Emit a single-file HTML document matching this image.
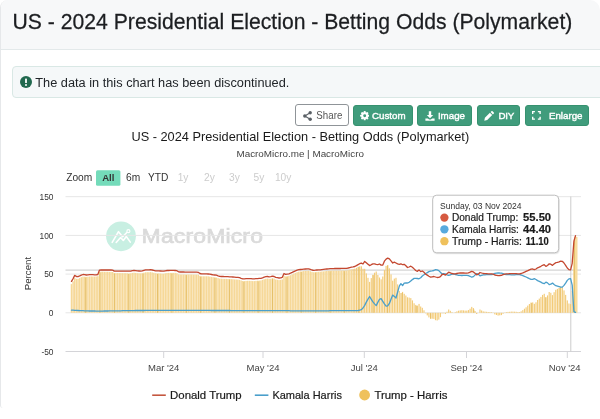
<!DOCTYPE html>
<html lang="en">
<head>
<meta charset="utf-8">
<title>US - 2024 Presidential Election - Betting Odds (Polymarket)</title>
<style>
html,body{margin:0;padding:0;}
body{width:600px;height:419px;overflow:hidden;background:#fff;position:relative;
  font-family:"Liberation Sans",Arial,Helvetica,sans-serif;color:#212529;}
.card{position:absolute;left:0;top:0;width:600px;height:408px;border:0;border-left:1px solid #e6e8ea;border-radius:8px 10px 0 3px;
  box-sizing:border-box;background:#fff;overflow:hidden;}
.card-header{position:absolute;left:0;top:0;right:0;height:49px;background:#f7f8f9;border-bottom:1px solid #e3e9ea;}
h1{position:absolute;left:11.6px;top:9.5px;margin:0;font-weight:400;font-size:21.17px;line-height:24px;white-space:nowrap;color:#1c1e21;letter-spacing:0;transform:scaleY(1.085);transform-origin:0 20.2px;-webkit-text-stroke:0.25px #1c1e21;}
.alert{position:absolute;left:12px;top:66px;width:640px;height:32px;box-sizing:border-box;border:1px solid #d9e8e5;border-radius:4px;background:#f5f8f9;}
.alert .ico{position:absolute;left:6.5px;top:9px;width:12px;height:12px;}
.alert span{position:absolute;left:22.3px;top:8.2px;font-size:12.77px;line-height:15px;white-space:nowrap;color:#212529;transform:scaleY(1.06);transform-origin:0 12.8px;}
.btn{position:absolute;top:105px;height:21px;box-sizing:border-box;border-radius:3px;border:1px solid #36916f;background:#409c7c;color:#fff;
  font-size:9.75px;font-weight:400;line-height:19px;white-space:nowrap;letter-spacing:0;}
.btn svg{position:absolute;top:5px;}
.btn b{position:absolute;top:0.3px;font-weight:400;-webkit-text-stroke:0.4px #fff;}
.btn.share{background:#fff;border-color:#8f9498;color:#555;font-weight:400;letter-spacing:0;}
.btn.share b{font-weight:400;font-size:9.75px;-webkit-text-stroke:0;}
svg text{font-family:"Liberation Sans",Arial,Helvetica,sans-serif;}
#chart{position:absolute;left:0;top:0;}
#root{position:absolute;left:0;top:0;width:600px;height:419px;will-change:transform;}
</style>
</head>
<body>
<div id="root">
<div class="card">
  <div class="card-header"><h1>US - 2024 Presidential Election - Betting Odds (Polymarket)</h1></div>
</div>

<div class="alert">
  <svg class="ico" viewBox="0 0 12 12"><circle cx="6" cy="6" r="6" fill="#21694f"/><rect x="5.1" y="2.4" width="1.8" height="4.6" rx="0.6" fill="#fff"/><circle cx="6" cy="8.9" r="1" fill="#fff"/></svg>
  <span>The data in this chart has been discontinued.</span>
</div>

<div class="btn share" style="left:294.7px;top:104.3px;width:54.5px;height:21.8px;border-width:1.2px;">
  <svg style="left:7.2px;top:5.3px" width="9" height="10" viewBox="0 0 9 10"><g fill="#5a6066"><circle cx="7.2" cy="1.8" r="1.7"/><circle cx="1.8" cy="5" r="1.7"/><circle cx="7.2" cy="8.2" r="1.7"/></g><path d="M7.2 1.8L1.8 5L7.2 8.2" fill="none" stroke="#5a6066" stroke-width="1.1"/></svg>
  <b style="left:20.6px;top:0.5px;transform:scaleY(1.08);transform-origin:0 12.6px">Share</b>
</div>
<div class="btn" style="left:353px;width:60px;">
  <svg style="left:5.6px;top:5.3px" width="9.4" height="9.4" viewBox="0 0 10 10"><g fill="#fff"><circle cx="5" cy="5" r="3.55"/><rect x="3.9" y="0.1" width="2.2" height="9.8" rx="0.7"/><rect x="3.9" y="0.1" width="2.2" height="9.8" rx="0.7" transform="rotate(45 5 5)"/><rect x="3.9" y="0.1" width="2.2" height="9.8" rx="0.7" transform="rotate(90 5 5)"/><rect x="3.9" y="0.1" width="2.2" height="9.8" rx="0.7" transform="rotate(135 5 5)"/></g><circle cx="5" cy="5" r="1.55" fill="#409c7c"/></svg>
  <b style="left:18px">Custom</b>
</div>
<div class="btn" style="left:417px;width:55px;">
  <svg style="left:6.9px;top:4.6px" width="10" height="10" viewBox="0 0 10 10"><path d="M3.8 0.3h2.4v3.6h2L5 7.2 1.8 3.9h2z" fill="#fff"/><path d="M0.4 7.4h2.4l1.4 1.2h1.6l1.4-1.2h2.4v2.3H0.4z" fill="#fff"/></svg>
  <b style="left:19.9px">Image</b>
</div>
<div class="btn" style="left:477px;width:43px;">
  <svg style="left:5.9px;top:4.6px" width="10" height="10" viewBox="0 0 10 10"><path d="M0.3 9.7l0.6-2.9 5-5 2.3 2.3-5 5zM6.6 1.1l0.9-0.9c0.3-0.3 0.7-0.3 1 0l1.3 1.3c0.3 0.3 0.3 0.7 0 1l-0.9 0.9z" fill="#fff"/></svg>
  <b style="left:20.5px;letter-spacing:-0.3px">DIY</b>
</div>
<div class="btn" style="left:525px;width:63.5px;">
  <svg style="left:6.4px;top:5px" width="8.8" height="8.8" viewBox="0 0 9 9"><path d="M0.7 3V0.7H3M6 0.7h2.3V3M8.3 6v2.3H6M3 8.3H0.7V6" fill="none" stroke="#fff" stroke-width="1.4"/></svg>
  <b style="left:22.9px">Enlarge</b>
</div>

<svg id="chart" width="600" height="419" viewBox="0 0 600 419">
  <!-- titles -->
  <text x="300.3" y="140.7" text-anchor="middle" font-size="12.77" fill="#1a1a1a">US - 2024 Presidential Election - Betting Odds (Polymarket)</text>
  <text x="300.2" y="157.2" text-anchor="middle" font-size="9.87" fill="#444">MacroMicro.me | MacroMicro</text>

  <!-- range selector -->
  <g font-size="10.2">
    <text x="66.2" y="181.35" fill="#333">Zoom</text>
    <rect x="96" y="170.2" width="24.4" height="15.6" rx="1.5" fill="#74dbba"/>
    <text x="108.3" y="181.35" text-anchor="middle" fill="#333" font-weight="700" font-size="9.6">All</text>
    <text x="133.1" y="181.35" text-anchor="middle" fill="#333">6m</text>
    <text x="158.1" y="181.35" text-anchor="middle" fill="#333">YTD</text>
    <g fill="#cccccc">
      <text x="183.1" y="181.35" text-anchor="middle">1y</text>
      <text x="209.5" y="181.35" text-anchor="middle">2y</text>
      <text x="234.4" y="181.35" text-anchor="middle">3y</text>
      <text x="259" y="181.35" text-anchor="middle">5y</text>
      <text x="283.1" y="181.35" text-anchor="middle">10y</text>
    </g>
  </g>

  <!-- watermark -->
  <g>
    <circle cx="121" cy="236.3" r="14.9" fill="#c8efe2"/>
    <path d="M112.2 242.4L118.5 231.7L122.6 236.7L127.1 232.3" fill="none" stroke="#fff" stroke-width="1.6" stroke-linejoin="round" stroke-linecap="round"/>
    <path d="M116.2 242.5L120.6 237.5L123.3 240.5L126.3 236.5L130.3 242.1" fill="none" stroke="#fff" stroke-width="1.6" stroke-linejoin="round" stroke-linecap="round"/>
    <circle cx="128.4" cy="231.2" r="1.5" fill="#c8efe2" stroke="#fff" stroke-width="1.2"/>
    <text transform="translate(141.6,243.3) scale(1.147,1)" font-size="20" font-weight="400" fill="#dadada" stroke="#dadada" stroke-width="0.7" letter-spacing="0.15">MacroMicro</text>
  </g>

  <!-- grid -->
  <g stroke="#e6e6e6" stroke-width="1">
<line x1="65.5" x2="581" y1="196.7" y2="196.7"/>
<line x1="65.5" x2="581" y1="235.4" y2="235.4"/>
<line x1="65.5" x2="581" y1="274.1" y2="274.1"/>
<line x1="65.5" x2="581" y1="312.8" y2="312.8"/>
  </g>
  <line x1="65.5" x2="581" y1="270.1" y2="270.1" stroke="#c9c9c9" stroke-width="1"/>
  <line x1="65.5" x2="581" y1="351.5" y2="351.5" stroke="#d4d4d8" stroke-width="1"/>
  <g stroke="#d4d4d8" stroke-width="1">
<line x1="163.7" x2="163.7" y1="351.5" y2="358"/>
<line x1="263.0" x2="263.0" y1="351.5" y2="358"/>
<line x1="364.3" x2="364.3" y1="351.5" y2="358"/>
<line x1="466.5" x2="466.5" y1="351.5" y2="358"/>
<line x1="567.3" x2="567.3" y1="351.5" y2="358"/>
  </g>
  <!-- crosshair -->
  <line x1="570.8" x2="570.8" y1="196.5" y2="351.5" stroke="#cccccc" stroke-width="1"/>

  <!-- axis labels -->
  <g font-size="8.4" fill="#333">
<text x="53.5" y="199.8" text-anchor="end">150</text>
<text x="53.5" y="238.5" text-anchor="end">100</text>
<text x="53.5" y="277.2" text-anchor="end">50</text>
<text x="53.5" y="315.9" text-anchor="end">0</text>
<text x="53.5" y="354.6" text-anchor="end">-50</text>
  </g>
  <g font-size="9.5" fill="#444">
<text x="163.7" y="371.4" text-anchor="middle">Mar '24</text>
<text x="263.0" y="371.4" text-anchor="middle">May '24</text>
<text x="364.3" y="371.4" text-anchor="middle">Jul '24</text>
<text x="466.5" y="371.4" text-anchor="middle">Sep '24</text>
<text x="564.6999999999999" y="371.4" text-anchor="middle">Nov '24</text>
  </g>
  <text transform="translate(31.3,273.6) rotate(-90)" text-anchor="middle" font-size="9.7" fill="#333">Percent</text>

  <!-- columns: Trump - Harris -->
  <g fill="#f6d898">
<rect x="70.73" y="284.1" width="1.45" height="28.7"/>
<rect x="72.38" y="281.3" width="1.45" height="31.5"/>
<rect x="74.02" y="277.9" width="1.45" height="34.9"/>
<rect x="75.67" y="278.9" width="1.45" height="33.9"/>
<rect x="77.32" y="278.9" width="1.45" height="33.9"/>
<rect x="78.97" y="278.1" width="1.45" height="34.7"/>
<rect x="80.61" y="277.2" width="1.45" height="35.6"/>
<rect x="82.26" y="276.6" width="1.45" height="36.2"/>
<rect x="83.91" y="276.7" width="1.45" height="36.1"/>
<rect x="85.56" y="276.9" width="1.45" height="35.9"/>
<rect x="87.20" y="276.7" width="1.45" height="36.1"/>
<rect x="88.85" y="276.5" width="1.45" height="36.3"/>
<rect x="90.50" y="276.4" width="1.45" height="36.4"/>
<rect x="92.14" y="276.5" width="1.45" height="36.3"/>
<rect x="93.79" y="276.6" width="1.45" height="36.2"/>
<rect x="95.44" y="276.5" width="1.45" height="36.3"/>
<rect x="97.09" y="276.2" width="1.45" height="36.6"/>
<rect x="98.73" y="271.8" width="1.45" height="41.0"/>
<rect x="100.38" y="271.7" width="1.45" height="41.1"/>
<rect x="102.03" y="271.7" width="1.45" height="41.1"/>
<rect x="103.68" y="271.8" width="1.45" height="41.0"/>
<rect x="105.32" y="271.8" width="1.45" height="41.0"/>
<rect x="106.97" y="271.8" width="1.45" height="41.0"/>
<rect x="108.62" y="271.9" width="1.45" height="40.9"/>
<rect x="110.27" y="271.9" width="1.45" height="40.9"/>
<rect x="111.91" y="272.0" width="1.45" height="40.8"/>
<rect x="113.56" y="273.0" width="1.45" height="39.8"/>
<rect x="115.21" y="273.1" width="1.45" height="39.7"/>
<rect x="116.85" y="273.1" width="1.45" height="39.7"/>
<rect x="118.50" y="273.1" width="1.45" height="39.7"/>
<rect x="120.15" y="273.1" width="1.45" height="39.7"/>
<rect x="121.80" y="273.2" width="1.45" height="39.6"/>
<rect x="123.44" y="273.2" width="1.45" height="39.6"/>
<rect x="125.09" y="273.2" width="1.45" height="39.6"/>
<rect x="126.74" y="273.3" width="1.45" height="39.5"/>
<rect x="128.39" y="273.4" width="1.45" height="39.4"/>
<rect x="130.03" y="273.3" width="1.45" height="39.5"/>
<rect x="131.68" y="272.9" width="1.45" height="39.9"/>
<rect x="133.33" y="272.7" width="1.45" height="40.1"/>
<rect x="134.97" y="272.9" width="1.45" height="39.9"/>
<rect x="136.62" y="273.2" width="1.45" height="39.6"/>
<rect x="138.27" y="273.3" width="1.45" height="39.5"/>
<rect x="139.92" y="273.4" width="1.45" height="39.4"/>
<rect x="141.56" y="273.2" width="1.45" height="39.6"/>
<rect x="143.21" y="272.7" width="1.45" height="40.1"/>
<rect x="144.86" y="272.3" width="1.45" height="40.5"/>
<rect x="146.51" y="272.2" width="1.45" height="40.6"/>
<rect x="148.15" y="272.2" width="1.45" height="40.6"/>
<rect x="149.80" y="272.1" width="1.45" height="40.7"/>
<rect x="151.45" y="272.4" width="1.45" height="40.4"/>
<rect x="153.09" y="272.8" width="1.45" height="40.0"/>
<rect x="154.74" y="273.2" width="1.45" height="39.6"/>
<rect x="156.39" y="273.3" width="1.45" height="39.5"/>
<rect x="158.04" y="273.4" width="1.45" height="39.4"/>
<rect x="159.68" y="273.5" width="1.45" height="39.3"/>
<rect x="161.33" y="273.7" width="1.45" height="39.1"/>
<rect x="162.98" y="273.7" width="1.45" height="39.1"/>
<rect x="164.63" y="273.3" width="1.45" height="39.5"/>
<rect x="166.27" y="273.0" width="1.45" height="39.8"/>
<rect x="167.92" y="272.9" width="1.45" height="39.9"/>
<rect x="169.57" y="272.9" width="1.45" height="39.9"/>
<rect x="171.22" y="272.9" width="1.45" height="39.9"/>
<rect x="172.86" y="272.9" width="1.45" height="39.9"/>
<rect x="174.51" y="272.9" width="1.45" height="39.9"/>
<rect x="176.16" y="273.2" width="1.45" height="39.6"/>
<rect x="177.80" y="274.3" width="1.45" height="38.5"/>
<rect x="179.45" y="274.5" width="1.45" height="38.3"/>
<rect x="181.10" y="274.5" width="1.45" height="38.3"/>
<rect x="182.75" y="274.5" width="1.45" height="38.3"/>
<rect x="184.39" y="274.5" width="1.45" height="38.3"/>
<rect x="186.04" y="274.5" width="1.45" height="38.3"/>
<rect x="187.69" y="274.5" width="1.45" height="38.3"/>
<rect x="189.34" y="274.5" width="1.45" height="38.3"/>
<rect x="190.98" y="274.5" width="1.45" height="38.3"/>
<rect x="192.63" y="274.6" width="1.45" height="38.2"/>
<rect x="194.28" y="274.6" width="1.45" height="38.2"/>
<rect x="195.92" y="274.6" width="1.45" height="38.2"/>
<rect x="197.57" y="274.7" width="1.45" height="38.1"/>
<rect x="199.22" y="275.9" width="1.45" height="36.9"/>
<rect x="200.87" y="276.3" width="1.45" height="36.5"/>
<rect x="202.51" y="276.3" width="1.45" height="36.5"/>
<rect x="204.16" y="276.3" width="1.45" height="36.5"/>
<rect x="205.81" y="276.3" width="1.45" height="36.5"/>
<rect x="207.46" y="276.3" width="1.45" height="36.5"/>
<rect x="209.10" y="276.6" width="1.45" height="36.2"/>
<rect x="210.75" y="276.9" width="1.45" height="35.9"/>
<rect x="212.40" y="277.1" width="1.45" height="35.7"/>
<rect x="214.05" y="277.3" width="1.45" height="35.5"/>
<rect x="215.69" y="277.6" width="1.45" height="35.2"/>
<rect x="217.34" y="278.1" width="1.45" height="34.7"/>
<rect x="218.99" y="278.6" width="1.45" height="34.2"/>
<rect x="220.63" y="278.7" width="1.45" height="34.1"/>
<rect x="222.28" y="278.8" width="1.45" height="34.0"/>
<rect x="223.93" y="278.9" width="1.45" height="33.9"/>
<rect x="225.58" y="278.9" width="1.45" height="33.9"/>
<rect x="227.22" y="279.0" width="1.45" height="33.8"/>
<rect x="228.87" y="279.0" width="1.45" height="33.8"/>
<rect x="230.52" y="279.1" width="1.45" height="33.7"/>
<rect x="232.17" y="279.2" width="1.45" height="33.6"/>
<rect x="233.81" y="279.4" width="1.45" height="33.4"/>
<rect x="235.46" y="279.5" width="1.45" height="33.3"/>
<rect x="237.11" y="279.6" width="1.45" height="33.2"/>
<rect x="238.75" y="279.9" width="1.45" height="32.9"/>
<rect x="240.40" y="280.5" width="1.45" height="32.3"/>
<rect x="242.05" y="281.0" width="1.45" height="31.8"/>
<rect x="243.70" y="281.1" width="1.45" height="31.7"/>
<rect x="245.34" y="280.9" width="1.45" height="31.9"/>
<rect x="246.99" y="280.8" width="1.45" height="32.0"/>
<rect x="248.64" y="280.8" width="1.45" height="32.0"/>
<rect x="250.29" y="280.9" width="1.45" height="31.9"/>
<rect x="251.93" y="281.1" width="1.45" height="31.7"/>
<rect x="253.58" y="281.1" width="1.45" height="31.7"/>
<rect x="255.23" y="280.9" width="1.45" height="31.9"/>
<rect x="256.87" y="280.7" width="1.45" height="32.1"/>
<rect x="258.52" y="280.6" width="1.45" height="32.2"/>
<rect x="260.17" y="280.5" width="1.45" height="32.3"/>
<rect x="261.82" y="279.9" width="1.45" height="32.9"/>
<rect x="263.46" y="279.3" width="1.45" height="33.5"/>
<rect x="265.11" y="278.8" width="1.45" height="34.0"/>
<rect x="266.76" y="278.6" width="1.45" height="34.2"/>
<rect x="268.41" y="278.9" width="1.45" height="33.9"/>
<rect x="270.05" y="278.8" width="1.45" height="34.0"/>
<rect x="271.70" y="278.2" width="1.45" height="34.6"/>
<rect x="273.35" y="278.6" width="1.45" height="34.2"/>
<rect x="275.00" y="279.5" width="1.45" height="33.3"/>
<rect x="276.64" y="279.8" width="1.45" height="33.0"/>
<rect x="278.29" y="280.1" width="1.45" height="32.7"/>
<rect x="279.94" y="279.9" width="1.45" height="32.9"/>
<rect x="281.58" y="279.4" width="1.45" height="33.4"/>
<rect x="283.23" y="275.6" width="1.45" height="37.2"/>
<rect x="284.88" y="276.5" width="1.45" height="36.3"/>
<rect x="286.53" y="276.2" width="1.45" height="36.6"/>
<rect x="288.17" y="275.8" width="1.45" height="37.0"/>
<rect x="289.82" y="275.2" width="1.45" height="37.6"/>
<rect x="291.47" y="274.4" width="1.45" height="38.4"/>
<rect x="293.12" y="273.6" width="1.45" height="39.2"/>
<rect x="294.76" y="272.9" width="1.45" height="39.9"/>
<rect x="296.41" y="272.2" width="1.45" height="40.6"/>
<rect x="298.06" y="271.7" width="1.45" height="41.1"/>
<rect x="299.70" y="271.5" width="1.45" height="41.3"/>
<rect x="301.35" y="271.3" width="1.45" height="41.5"/>
<rect x="303.00" y="271.1" width="1.45" height="41.7"/>
<rect x="304.65" y="271.0" width="1.45" height="41.8"/>
<rect x="306.29" y="270.9" width="1.45" height="41.9"/>
<rect x="307.94" y="270.8" width="1.45" height="42.0"/>
<rect x="309.59" y="271.3" width="1.45" height="41.5"/>
<rect x="311.24" y="271.9" width="1.45" height="40.9"/>
<rect x="312.88" y="272.3" width="1.45" height="40.5"/>
<rect x="314.53" y="272.1" width="1.45" height="40.7"/>
<rect x="316.18" y="271.9" width="1.45" height="40.9"/>
<rect x="317.82" y="271.8" width="1.45" height="41.0"/>
<rect x="319.47" y="271.7" width="1.45" height="41.1"/>
<rect x="321.12" y="271.5" width="1.45" height="41.3"/>
<rect x="322.77" y="271.4" width="1.45" height="41.4"/>
<rect x="324.41" y="271.2" width="1.45" height="41.6"/>
<rect x="326.06" y="271.0" width="1.45" height="41.8"/>
<rect x="327.71" y="270.9" width="1.45" height="41.9"/>
<rect x="329.36" y="270.7" width="1.45" height="42.1"/>
<rect x="331.00" y="270.7" width="1.45" height="42.1"/>
<rect x="332.65" y="270.7" width="1.45" height="42.1"/>
<rect x="334.30" y="270.7" width="1.45" height="42.1"/>
<rect x="335.95" y="270.7" width="1.45" height="42.1"/>
<rect x="337.59" y="270.7" width="1.45" height="42.1"/>
<rect x="339.24" y="270.7" width="1.45" height="42.1"/>
<rect x="340.89" y="270.6" width="1.45" height="42.2"/>
<rect x="342.53" y="270.6" width="1.45" height="42.2"/>
<rect x="344.18" y="270.5" width="1.45" height="42.3"/>
<rect x="345.83" y="270.5" width="1.45" height="42.3"/>
<rect x="347.48" y="270.2" width="1.45" height="42.6"/>
<rect x="349.12" y="269.8" width="1.45" height="43.0"/>
<rect x="350.77" y="269.4" width="1.45" height="43.4"/>
<rect x="352.57" y="269.1" width="1.15" height="43.7" fill="#f3cb78"/>
<rect x="354.22" y="268.7" width="1.15" height="44.1" fill="#f3cb78"/>
<rect x="355.86" y="267.9" width="1.15" height="44.9" fill="#f3cb78"/>
<rect x="357.51" y="266.8" width="1.15" height="46.0" fill="#f3cb78"/>
<rect x="359.16" y="266.3" width="1.15" height="46.5" fill="#f3cb78"/>
<rect x="360.80" y="266.3" width="1.15" height="46.5" fill="#f3cb78"/>
<rect x="362.45" y="268.8" width="1.15" height="44.0" fill="#f3cb78"/>
<rect x="364.10" y="268.8" width="1.15" height="44.0" fill="#f3cb78"/>
<rect x="365.75" y="273.4" width="1.15" height="39.4" fill="#f3cb78"/>
<rect x="367.39" y="277.8" width="1.15" height="35.0" fill="#f3cb78"/>
<rect x="369.04" y="281.9" width="1.15" height="30.9" fill="#f3cb78"/>
<rect x="370.69" y="278.1" width="1.15" height="34.7" fill="#f3cb78"/>
<rect x="372.34" y="274.8" width="1.15" height="38.0" fill="#f3cb78"/>
<rect x="373.98" y="272.7" width="1.15" height="40.1" fill="#f3cb78"/>
<rect x="375.63" y="271.5" width="1.15" height="41.3" fill="#f3cb78"/>
<rect x="377.28" y="275.0" width="1.15" height="37.8" fill="#f3cb78"/>
<rect x="378.93" y="277.5" width="1.15" height="35.3" fill="#f3cb78"/>
<rect x="380.57" y="279.3" width="1.15" height="33.5" fill="#f3cb78"/>
<rect x="382.22" y="276.5" width="1.15" height="36.3" fill="#f3cb78"/>
<rect x="383.87" y="270.1" width="1.15" height="42.7" fill="#f3cb78"/>
<rect x="385.51" y="265.9" width="1.15" height="46.9" fill="#f3cb78"/>
<rect x="387.16" y="265.0" width="1.15" height="47.8" fill="#f3cb78"/>
<rect x="388.81" y="268.3" width="1.15" height="44.5" fill="#f3cb78"/>
<rect x="390.46" y="274.4" width="1.15" height="38.4" fill="#f3cb78"/>
<rect x="392.10" y="280.7" width="1.15" height="32.1" fill="#f3cb78"/>
<rect x="393.75" y="278.6" width="1.15" height="34.2" fill="#f3cb78"/>
<rect x="395.40" y="277.8" width="1.15" height="35.0" fill="#f3cb78"/>
<rect x="397.05" y="284.4" width="1.15" height="28.4" fill="#f3cb78"/>
<rect x="398.69" y="290.9" width="1.15" height="21.9" fill="#f3cb78"/>
<rect x="400.34" y="293.0" width="1.15" height="19.8" fill="#f3cb78"/>
<rect x="401.99" y="291.9" width="1.15" height="20.9" fill="#f3cb78"/>
<rect x="403.63" y="293.8" width="1.15" height="19.0" fill="#f3cb78"/>
<rect x="405.28" y="295.5" width="1.15" height="17.3" fill="#f3cb78"/>
<rect x="406.93" y="297.3" width="1.15" height="15.5" fill="#f3cb78"/>
<rect x="408.58" y="297.6" width="1.15" height="15.2" fill="#f3cb78"/>
<rect x="410.22" y="298.1" width="1.15" height="14.7" fill="#f3cb78"/>
<rect x="411.87" y="300.4" width="1.15" height="12.4" fill="#f3cb78"/>
<rect x="413.52" y="303.3" width="1.15" height="9.5" fill="#f3cb78"/>
<rect x="415.17" y="304.9" width="1.15" height="7.9" fill="#f3cb78"/>
<rect x="416.81" y="305.6" width="1.15" height="7.2" fill="#f3cb78"/>
<rect x="418.46" y="303.9" width="1.15" height="8.9" fill="#f3cb78"/>
<rect x="420.11" y="306.5" width="1.15" height="6.3" fill="#f3cb78"/>
<rect x="421.75" y="307.8" width="1.15" height="5.0" fill="#f3cb78"/>
<rect x="423.40" y="310.3" width="1.15" height="2.5" fill="#f3cb78"/>
<rect x="425.05" y="312.8" width="1.15" height="0.5" fill="#f3cb78"/>
<rect x="426.70" y="312.8" width="1.15" height="2.6" fill="#f3cb78"/>
<rect x="428.34" y="312.8" width="1.15" height="4.6" fill="#f3cb78"/>
<rect x="429.99" y="312.8" width="1.15" height="5.9" fill="#f3cb78"/>
<rect x="431.64" y="312.8" width="1.15" height="5.9" fill="#f3cb78"/>
<rect x="433.29" y="312.8" width="1.15" height="6.1" fill="#f3cb78"/>
<rect x="434.93" y="312.8" width="1.15" height="7.4" fill="#f3cb78"/>
<rect x="436.58" y="312.8" width="1.15" height="7.7" fill="#f3cb78"/>
<rect x="438.23" y="312.8" width="1.15" height="6.8" fill="#f3cb78"/>
<rect x="439.88" y="312.8" width="1.15" height="4.4" fill="#f3cb78"/>
<rect x="441.52" y="312.8" width="1.15" height="0.6" fill="#f3cb78"/>
<rect x="443.17" y="312.8" width="1.15" height="0.5" fill="#f3cb78"/>
<rect x="444.82" y="312.8" width="1.15" height="1.1" fill="#f3cb78"/>
<rect x="446.46" y="311.7" width="1.15" height="1.1" fill="#f3cb78"/>
<rect x="448.11" y="309.5" width="1.15" height="3.3" fill="#f3cb78"/>
<rect x="449.76" y="310.8" width="1.15" height="2.0" fill="#f3cb78"/>
<rect x="451.41" y="312.1" width="1.15" height="0.7" fill="#f3cb78"/>
<rect x="454.70" y="312.2" width="1.15" height="0.6" fill="#f3cb78"/>
<rect x="456.35" y="311.3" width="1.15" height="1.5" fill="#f3cb78"/>
<rect x="458.00" y="310.7" width="1.15" height="2.1" fill="#f3cb78"/>
<rect x="459.64" y="310.4" width="1.15" height="2.4" fill="#f3cb78"/>
<rect x="461.29" y="310.2" width="1.15" height="2.6" fill="#f3cb78"/>
<rect x="462.94" y="310.4" width="1.15" height="2.4" fill="#f3cb78"/>
<rect x="464.58" y="310.6" width="1.15" height="2.2" fill="#f3cb78"/>
<rect x="466.23" y="310.6" width="1.15" height="2.2" fill="#f3cb78"/>
<rect x="467.88" y="310.1" width="1.15" height="2.7" fill="#f3cb78"/>
<rect x="469.53" y="308.7" width="1.15" height="4.1" fill="#f3cb78"/>
<rect x="471.17" y="306.9" width="1.15" height="5.9" fill="#f3cb78"/>
<rect x="472.82" y="308.1" width="1.15" height="4.7" fill="#f3cb78"/>
<rect x="474.47" y="311.0" width="1.15" height="1.8" fill="#f3cb78"/>
<rect x="476.12" y="312.8" width="1.15" height="1.2" fill="#f3cb78"/>
<rect x="479.41" y="309.5" width="1.15" height="3.3" fill="#f3cb78"/>
<rect x="481.06" y="310.5" width="1.15" height="2.3" fill="#f3cb78"/>
<rect x="482.70" y="311.4" width="1.15" height="1.4" fill="#f3cb78"/>
<rect x="484.35" y="311.6" width="1.15" height="1.2" fill="#f3cb78"/>
<rect x="486.00" y="311.8" width="1.15" height="1.0" fill="#f3cb78"/>
<rect x="487.65" y="312.0" width="1.15" height="0.8" fill="#f3cb78"/>
<rect x="489.29" y="312.1" width="1.15" height="0.7" fill="#f3cb78"/>
<rect x="490.94" y="312.2" width="1.15" height="0.6" fill="#f3cb78"/>
<rect x="492.59" y="312.6" width="1.15" height="0.2" fill="#f3cb78"/>
<rect x="494.24" y="312.8" width="1.15" height="1.6" fill="#f3cb78"/>
<rect x="495.88" y="312.8" width="1.15" height="2.2" fill="#f3cb78"/>
<rect x="497.53" y="312.8" width="1.15" height="2.8" fill="#f3cb78"/>
<rect x="499.18" y="312.8" width="1.15" height="2.5" fill="#f3cb78"/>
<rect x="500.83" y="312.8" width="1.15" height="2.3" fill="#f3cb78"/>
<rect x="502.47" y="312.8" width="1.15" height="1.0" fill="#f3cb78"/>
<rect x="504.12" y="312.6" width="1.15" height="0.2" fill="#f3cb78"/>
<rect x="505.77" y="312.1" width="1.15" height="0.7" fill="#f3cb78"/>
<rect x="507.41" y="311.9" width="1.15" height="0.9" fill="#f3cb78"/>
<rect x="509.06" y="311.8" width="1.15" height="1.0" fill="#f3cb78"/>
<rect x="510.71" y="311.6" width="1.15" height="1.2" fill="#f3cb78"/>
<rect x="512.36" y="311.6" width="1.15" height="1.2" fill="#f3cb78"/>
<rect x="514.00" y="311.7" width="1.15" height="1.1" fill="#f3cb78"/>
<rect x="515.65" y="311.8" width="1.15" height="1.0" fill="#f3cb78"/>
<rect x="517.30" y="312.0" width="1.15" height="0.8" fill="#f3cb78"/>
<rect x="518.95" y="312.1" width="1.15" height="0.7" fill="#f3cb78"/>
<rect x="520.59" y="311.3" width="1.15" height="1.5" fill="#f3cb78"/>
<rect x="522.24" y="310.1" width="1.15" height="2.7" fill="#f3cb78"/>
<rect x="523.89" y="308.7" width="1.15" height="4.1" fill="#f3cb78"/>
<rect x="525.53" y="307.3" width="1.15" height="5.5" fill="#f3cb78"/>
<rect x="527.18" y="305.6" width="1.15" height="7.2" fill="#f3cb78"/>
<rect x="528.83" y="304.0" width="1.15" height="8.8" fill="#f3cb78"/>
<rect x="530.48" y="302.5" width="1.15" height="10.3" fill="#f3cb78"/>
<rect x="532.12" y="302.4" width="1.15" height="10.4" fill="#f3cb78"/>
<rect x="533.77" y="303.8" width="1.15" height="9.0" fill="#f3cb78"/>
<rect x="535.42" y="302.3" width="1.15" height="10.5" fill="#f3cb78"/>
<rect x="537.07" y="300.0" width="1.15" height="12.8" fill="#f3cb78"/>
<rect x="538.71" y="298.6" width="1.15" height="14.2" fill="#f3cb78"/>
<rect x="540.36" y="296.9" width="1.15" height="15.9" fill="#f3cb78"/>
<rect x="542.01" y="294.9" width="1.15" height="17.9" fill="#f3cb78"/>
<rect x="543.66" y="293.8" width="1.15" height="19.0" fill="#f3cb78"/>
<rect x="545.30" y="297.1" width="1.15" height="15.7" fill="#f3cb78"/>
<rect x="546.95" y="295.4" width="1.15" height="17.4" fill="#f3cb78"/>
<rect x="548.60" y="292.0" width="1.15" height="20.8" fill="#f3cb78"/>
<rect x="550.24" y="292.8" width="1.15" height="20.0" fill="#f3cb78"/>
<rect x="551.89" y="295.1" width="1.15" height="17.7" fill="#f3cb78"/>
<rect x="553.54" y="292.2" width="1.15" height="20.6" fill="#f3cb78"/>
<rect x="555.19" y="289.8" width="1.15" height="23.0" fill="#f3cb78"/>
<rect x="556.83" y="288.9" width="1.15" height="23.9" fill="#f3cb78"/>
<rect x="558.48" y="288.0" width="1.15" height="24.8" fill="#f3cb78"/>
<rect x="560.13" y="286.8" width="1.15" height="26.0" fill="#f3cb78"/>
<rect x="561.78" y="287.1" width="1.15" height="25.7" fill="#f3cb78"/>
<rect x="563.42" y="290.4" width="1.15" height="22.4" fill="#f3cb78"/>
<rect x="565.07" y="294.9" width="1.15" height="17.9" fill="#f3cb78"/>
<rect x="566.72" y="300.4" width="1.15" height="12.4" fill="#f3cb78"/>
<rect x="568.36" y="303.5" width="1.15" height="9.3" fill="#f3cb78"/>
<rect x="570.01" y="304.1" width="1.15" height="8.7" fill="#f3cb78"/>
<rect x="571.66" y="290.9" width="1.15" height="21.9" fill="#f3cb78"/>
<rect x="573.31" y="242.6" width="1.15" height="70.2" fill="#f3cb78"/>
<rect x="574.95" y="236.0" width="1.15" height="76.8" fill="#f3cb78"/>
<rect x="574.2" y="237.0" width="3.3" height="75.8" fill="#f7dc9d"/>
  </g>
  <g stroke="#e0b85a" stroke-width="1" opacity="0.75">
<line x1="85.6" x2="85.6" y1="277.4" y2="312.8"/>
<line x1="100.0" x2="100.0" y1="272.4" y2="312.8"/>
<line x1="114.4" x2="114.4" y1="273.6" y2="312.8"/>
<line x1="128.7" x2="128.7" y1="274.0" y2="312.8"/>
<line x1="143.1" x2="143.1" y1="273.6" y2="312.8"/>
<line x1="157.5" x2="157.5" y1="274.0" y2="312.8"/>
<line x1="171.9" x2="171.9" y1="273.5" y2="312.8"/>
<line x1="186.3" x2="186.3" y1="275.1" y2="312.8"/>
<line x1="200.6" x2="200.6" y1="276.7" y2="312.8"/>
<line x1="215.0" x2="215.0" y1="277.9" y2="312.8"/>
<line x1="229.4" x2="229.4" y1="279.6" y2="312.8"/>
<line x1="243.8" x2="243.8" y1="281.7" y2="312.8"/>
<line x1="258.2" x2="258.2" y1="281.3" y2="312.8"/>
<line x1="272.5" x2="272.5" y1="278.8" y2="312.8"/>
<line x1="286.9" x2="286.9" y1="276.8" y2="312.8"/>
<line x1="301.3" x2="301.3" y1="272.0" y2="312.8"/>
<line x1="315.7" x2="315.7" y1="272.7" y2="312.8"/>
<line x1="330.1" x2="330.1" y1="271.3" y2="312.8"/>
<line x1="344.4" x2="344.4" y1="271.2" y2="312.8"/>
<line x1="358.8" x2="358.8" y1="267.2" y2="312.8"/>
<line x1="373.2" x2="373.2" y1="275.1" y2="312.8"/>
<line x1="387.6" x2="387.6" y1="265.7" y2="312.8"/>
<line x1="402.0" x2="402.0" y1="292.9" y2="312.8"/>
<line x1="416.3" x2="416.3" y1="305.8" y2="312.8"/>
<line x1="430.7" x2="430.7" y1="313.4" y2="318.7"/>
<line x1="473.9" x2="473.9" y1="309.5" y2="312.8"/>
<line x1="531.4" x2="531.4" y1="303.1" y2="312.8"/>
<line x1="545.8" x2="545.8" y1="297.5" y2="312.8"/>
<line x1="560.1" x2="560.1" y1="287.8" y2="312.8"/>
<line x1="574.5" x2="574.5" y1="240.6" y2="312.8"/>
  </g>

  <!-- lines -->
  <path d="M71.5,310.1 L73.1,310.2 L74.7,310.3 L76.4,310.4 L78.0,310.5 L79.7,310.6 L81.3,310.6 L83.0,310.7 L84.6,310.8 L86.3,310.8 L87.9,310.9 L89.6,311.0 L91.2,311.0 L92.9,311.0 L94.5,311.0 L96.2,311.1 L97.8,311.1 L99.5,311.1 L101.1,311.1 L102.7,311.1 L104.4,311.0 L106.0,311.0 L107.7,311.0 L109.3,310.9 L111.0,310.9 L112.6,310.9 L114.3,310.9 L115.9,310.8 L117.6,310.8 L119.2,310.8 L120.9,310.8 L122.5,310.7 L124.2,310.7 L125.8,310.7 L127.5,310.6 L129.1,310.6 L130.8,310.6 L132.4,310.6 L134.0,310.6 L135.7,310.5 L137.3,310.5 L139.0,310.5 L140.6,310.5 L142.3,310.5 L143.9,310.5 L145.6,310.4 L147.2,310.4 L148.9,310.4 L150.5,310.4 L152.2,310.4 L153.8,310.4 L155.5,310.3 L157.1,310.3 L158.8,310.3 L160.4,310.3 L162.1,310.3 L163.7,310.3 L165.3,310.3 L167.0,310.3 L168.6,310.3 L170.3,310.3 L171.9,310.3 L173.6,310.3 L175.2,310.3 L176.9,310.3 L178.5,310.3 L180.2,310.4 L181.8,310.4 L183.5,310.4 L185.1,310.4 L186.8,310.4 L188.4,310.4 L190.1,310.4 L191.7,310.4 L193.4,310.4 L195.0,310.4 L196.6,310.4 L198.3,310.4 L199.9,310.4 L201.6,310.4 L203.2,310.4 L204.9,310.4 L206.5,310.4 L208.2,310.4 L209.8,310.4 L211.5,310.5 L213.1,310.5 L214.8,310.5 L216.4,310.5 L218.1,310.5 L219.7,310.5 L221.4,310.5 L223.0,310.5 L224.6,310.5 L226.3,310.5 L227.9,310.5 L229.6,310.5 L231.2,310.6 L232.9,310.6 L234.5,310.6 L236.2,310.6 L237.8,310.6 L239.5,310.6 L241.1,310.6 L242.8,310.6 L244.4,310.6 L246.1,310.6 L247.7,310.6 L249.4,310.6 L251.0,310.6 L252.7,310.6 L254.3,310.6 L255.9,310.6 L257.6,310.6 L259.2,310.6 L260.9,310.7 L262.5,310.7 L264.2,310.7 L265.8,310.7 L267.5,310.7 L269.1,310.7 L270.8,310.7 L272.4,310.7 L274.1,310.7 L275.7,310.7 L277.4,310.7 L279.0,310.7 L280.7,310.7 L282.3,310.7 L284.0,310.7 L285.6,310.7 L287.2,310.7 L288.9,310.7 L290.5,310.8 L292.2,310.8 L293.8,310.8 L295.5,310.8 L297.1,310.8 L298.8,310.8 L300.4,310.8 L302.1,310.8 L303.7,310.8 L305.4,310.8 L307.0,310.8 L308.7,310.8 L310.3,310.9 L312.0,310.9 L313.6,310.9 L315.3,310.9 L316.9,310.9 L318.5,310.9 L320.2,310.9 L321.8,310.9 L323.5,310.8 L325.1,310.8 L326.8,310.8 L328.4,310.8 L330.1,310.7 L331.7,310.7 L333.4,310.7 L335.0,310.7 L336.7,310.7 L338.3,310.6 L340.0,310.6 L341.6,310.6 L343.3,310.6 L344.9,310.6 L346.5,310.6 L348.2,310.6 L349.8,310.6 L351.5,310.6 L353.1,310.6 L354.8,310.6 L356.4,310.6 L358.1,310.5 L359.7,310.2 L361.4,309.6 L363.0,308.0 L364.7,305.4 L366.3,302.1 L368.0,299.2 L369.6,296.5 L371.3,299.3 L372.9,301.9 L374.6,303.9 L376.2,305.6 L377.8,302.4 L379.5,299.3 L381.1,298.6 L382.8,301.3 L384.4,303.9 L386.1,306.1 L387.7,305.9 L389.4,303.4 L391.0,299.3 L392.7,295.1 L394.3,296.4 L396.0,298.0 L397.6,292.3 L399.3,286.2 L400.9,283.6 L402.6,285.6 L404.2,283.2 L405.9,283.0 L407.5,283.0 L409.1,282.3 L410.8,280.9 L412.4,279.6 L414.1,278.4 L415.7,278.4 L417.4,278.5 L419.0,278.8 L420.7,277.8 L422.3,276.0 L424.0,274.8 L425.6,273.5 L427.3,272.6 L428.9,271.6 L430.6,271.1 L432.2,270.9 L433.9,270.5 L435.5,269.6 L437.2,269.9 L438.8,270.6 L440.4,272.3 L442.1,274.0 L443.7,273.7 L445.4,274.0 L447.0,274.8 L448.7,275.4 L450.3,274.8 L452.0,274.1 L453.6,273.8 L455.3,274.5 L456.9,274.9 L458.6,275.3 L460.2,275.4 L461.9,275.5 L463.5,275.4 L465.2,275.3 L466.8,275.3 L468.4,275.6 L470.1,276.3 L471.7,277.2 L473.4,276.6 L475.0,275.1 L476.7,273.6 L478.3,274.2 L480.0,275.9 L481.6,275.4 L483.3,274.9 L484.9,274.8 L486.6,274.7 L488.2,274.6 L489.9,274.6 L491.5,274.5 L493.2,274.3 L494.8,273.4 L496.5,273.1 L498.1,272.8 L499.7,273.0 L501.4,273.1 L503.0,273.7 L504.7,274.3 L506.3,274.5 L508.0,274.7 L509.6,274.7 L511.3,274.8 L512.9,274.8 L514.6,274.8 L516.2,274.7 L517.9,274.6 L519.5,274.6 L521.2,275.0 L522.8,275.6 L524.5,276.3 L526.1,277.0 L527.8,277.8 L529.4,278.6 L531.0,279.3 L532.7,279.4 L534.3,278.7 L536.0,279.5 L537.6,280.6 L539.3,281.3 L540.9,282.1 L542.6,283.2 L544.2,283.7 L545.9,282.1 L547.5,282.9 L549.2,284.6 L550.8,284.2 L552.5,283.1 L554.1,284.5 L555.8,285.7 L557.4,286.1 L559.1,286.6 L560.7,287.2 L562.3,287.1 L564.0,285.4 L565.6,283.2 L567.3,280.4 L568.9,278.9 L570.6,278.6 L572.2,285.1 L573.9,311.6 L575.5,312.4" fill="none" stroke="#4a9fcb" stroke-width="1.3" stroke-linejoin="round" stroke-linecap="round"/>
  <path d="M71.5,281.4 L73.1,278.6 L74.7,275.4 L76.4,276.5 L78.0,276.6 L79.7,275.9 L81.3,275.1 L83.0,274.5 L84.6,274.7 L86.3,275.0 L87.9,274.8 L89.6,274.6 L91.2,274.7 L92.9,274.7 L94.5,274.8 L96.2,274.8 L97.8,274.5 L99.5,270.1 L101.1,270.0 L102.7,270.0 L104.4,270.0 L106.0,270.0 L107.7,270.0 L109.3,270.0 L111.0,270.0 L112.6,270.1 L114.3,271.1 L115.9,271.1 L117.6,271.1 L119.2,271.1 L120.9,271.1 L122.5,271.1 L124.2,271.1 L125.8,271.1 L127.5,271.1 L129.1,271.2 L130.8,271.1 L132.4,270.6 L134.0,270.5 L135.7,270.7 L137.3,270.9 L139.0,271.0 L140.6,271.1 L142.3,270.9 L143.9,270.4 L145.6,269.9 L147.2,269.8 L148.9,269.8 L150.5,269.7 L152.2,270.0 L153.8,270.4 L155.5,270.8 L157.1,270.9 L158.8,270.9 L160.4,271.0 L162.1,271.2 L163.7,271.2 L165.3,270.8 L167.0,270.5 L168.6,270.5 L170.3,270.4 L171.9,270.4 L173.6,270.4 L175.2,270.5 L176.9,270.7 L178.5,271.8 L180.2,272.0 L181.8,272.0 L183.5,272.0 L185.1,272.1 L186.8,272.1 L188.4,272.1 L190.1,272.1 L191.7,272.1 L193.4,272.1 L195.0,272.2 L196.6,272.2 L198.3,272.3 L199.9,273.5 L201.6,273.9 L203.2,273.9 L204.9,273.9 L206.5,273.9 L208.2,274.0 L209.8,274.2 L211.5,274.5 L213.1,274.8 L214.8,275.0 L216.4,275.2 L218.1,275.8 L219.7,276.3 L221.4,276.5 L223.0,276.5 L224.6,276.6 L226.3,276.6 L227.9,276.7 L229.6,276.8 L231.2,276.9 L232.9,277.0 L234.5,277.1 L236.2,277.3 L237.8,277.4 L239.5,277.7 L241.1,278.3 L242.8,278.8 L244.4,278.9 L246.1,278.7 L247.7,278.7 L249.4,278.6 L251.0,278.7 L252.7,278.9 L254.3,278.9 L255.9,278.7 L257.6,278.6 L259.2,278.4 L260.9,278.3 L262.5,277.8 L264.2,277.1 L265.8,276.7 L267.5,276.5 L269.1,276.8 L270.8,276.6 L272.4,276.1 L274.1,276.5 L275.7,277.4 L277.4,277.7 L279.0,278.0 L280.7,277.8 L282.3,277.3 L284.0,273.5 L285.6,274.4 L287.2,274.1 L288.9,273.8 L290.5,273.2 L292.2,272.4 L293.8,271.6 L295.5,270.8 L297.1,270.2 L298.8,269.7 L300.4,269.5 L302.1,269.3 L303.7,269.1 L305.4,269.0 L307.0,268.9 L308.7,268.9 L310.3,269.4 L312.0,270.0 L313.6,270.3 L315.3,270.2 L316.9,270.0 L318.5,269.9 L320.2,269.8 L321.8,269.6 L323.5,269.4 L325.1,269.2 L326.8,269.0 L328.4,268.8 L330.1,268.7 L331.7,268.6 L333.4,268.6 L335.0,268.5 L336.7,268.5 L338.3,268.5 L340.0,268.5 L341.6,268.4 L343.3,268.4 L344.9,268.3 L346.5,268.3 L348.2,268.0 L349.8,267.6 L351.5,267.2 L353.1,266.9 L354.8,266.5 L356.4,265.6 L358.1,264.6 L359.7,263.7 L361.4,263.1 L363.0,264.0 L364.7,261.4 L366.3,262.7 L368.0,264.2 L369.6,265.6 L371.3,264.7 L372.9,263.9 L374.6,263.8 L376.2,264.3 L377.8,264.6 L379.5,264.0 L381.1,265.1 L382.8,265.1 L384.4,261.2 L386.1,259.1 L387.7,258.1 L389.4,258.9 L391.0,260.9 L392.7,263.0 L394.3,262.2 L396.0,263.0 L397.6,263.9 L399.3,264.3 L400.9,263.8 L402.6,264.7 L404.2,264.3 L405.9,265.7 L407.5,267.5 L409.1,267.0 L410.8,266.2 L412.4,267.2 L414.1,268.9 L415.7,270.5 L417.4,271.3 L419.0,269.9 L420.7,271.6 L422.3,271.0 L424.0,272.3 L425.6,274.1 L427.3,275.1 L428.9,276.2 L430.6,277.1 L432.2,276.8 L433.9,276.5 L435.5,277.0 L437.2,277.5 L438.8,277.4 L440.4,276.7 L442.1,274.5 L443.7,274.2 L445.4,275.1 L447.0,273.7 L448.7,272.2 L450.3,272.8 L452.0,273.5 L453.6,273.8 L455.3,273.9 L456.9,273.5 L458.6,273.2 L460.2,273.0 L461.9,272.9 L463.5,273.0 L465.2,273.1 L466.8,273.1 L468.4,272.9 L470.1,272.1 L471.7,271.3 L473.4,271.9 L475.0,273.3 L476.7,274.8 L478.3,274.2 L480.0,272.5 L481.6,273.0 L483.3,273.5 L484.9,273.6 L486.6,273.7 L488.2,273.8 L489.9,273.9 L491.5,273.9 L493.2,274.1 L494.8,275.0 L496.5,275.3 L498.1,275.6 L499.7,275.5 L501.4,275.3 L503.0,274.7 L504.7,274.1 L506.3,273.9 L508.0,273.8 L509.6,273.7 L511.3,273.6 L512.9,273.6 L514.6,273.7 L516.2,273.7 L517.9,273.8 L519.5,273.9 L521.2,273.5 L522.8,272.9 L524.5,272.2 L526.1,271.4 L527.8,270.6 L529.4,269.8 L531.0,269.1 L532.7,269.0 L534.3,269.7 L536.0,269.0 L537.6,267.8 L539.3,267.1 L540.9,266.3 L542.6,265.3 L544.2,264.7 L545.9,266.4 L547.5,265.5 L549.2,263.8 L550.8,264.2 L552.5,265.4 L554.1,263.9 L555.8,262.7 L557.4,262.3 L559.1,261.8 L560.7,261.2 L562.3,261.3 L564.0,263.0 L565.6,265.3 L567.3,268.0 L568.9,269.6 L570.6,269.8 L572.2,263.3 L573.9,241.3 L575.5,235.6" fill="none" stroke="#c4472f" stroke-width="1.3" stroke-linejoin="round" stroke-linecap="round"/>

  <!-- tooltip -->
  <g>
    <rect x="432.5" y="196.2" width="127.5" height="58.4" rx="4.5" fill="#000" opacity="0.045"/>
    <rect x="433" y="196" width="126.6" height="58" rx="4.5" fill="#000" opacity="0.05"/>
    <rect x="432.7" y="195.2" width="126" height="57.6" rx="4" fill="#fff" stroke="#bdbdbd" stroke-width="1"/>
    <text x="440.1" y="208.9" font-size="8.52" fill="#333">Sunday, 03 Nov 2024</text>
    <g font-size="10.15" fill="#1a1a1a" stroke="#1a1a1a" stroke-width="0.18">
      <circle cx="444.4" cy="217.6" r="4.15" fill="#d65a40" stroke="none"/>
      <text x="451.9" y="221.2">Donald Trump:</text><text x="551.1" y="221.2" text-anchor="end" font-size="11.2" font-weight="700">55.50</text>
      <circle cx="444.4" cy="229.3" r="4.15" fill="#58aade" stroke="none"/>
      <text x="451.9" y="232.9">Kamala Harris:</text><text x="551.1" y="232.9" text-anchor="end" font-size="11.2" font-weight="700">44.40</text>
      <circle cx="444.4" cy="241.2" r="4.15" fill="#efc15c" stroke="none"/>
      <text x="451.9" y="244.7" textLength="70" lengthAdjust="spacingAndGlyphs">Trump - Harris:</text><text x="525.8" y="244.7" font-size="11.2" font-weight="700" textLength="23" lengthAdjust="spacingAndGlyphs">11.10</text>
    </g>
  </g>

  <!-- legend -->
  <g font-size="11.4" fill="#1a1a1a" stroke="#1a1a1a" stroke-width="0.2">
    <line x1="152.2" x2="165.8" y1="395.2" y2="395.2" stroke="#c4573f" stroke-width="1.6"/>
    <text x="170.1" y="399.2">Donald Trump</text>
    <line x1="254.8" x2="268.4" y1="395.2" y2="395.2" stroke="#4a9fcb" stroke-width="1.6"/>
    <text x="272.4" y="399.2" textLength="69.6" lengthAdjust="spacingAndGlyphs">Kamala Harris</text>
    <circle cx="364.6" cy="395" r="5.4" fill="#efc15c" stroke="none"/>
    <text x="374.4" y="399.2">Trump - Harris</text>
  </g>
</svg>
</div>
</body>
</html>
